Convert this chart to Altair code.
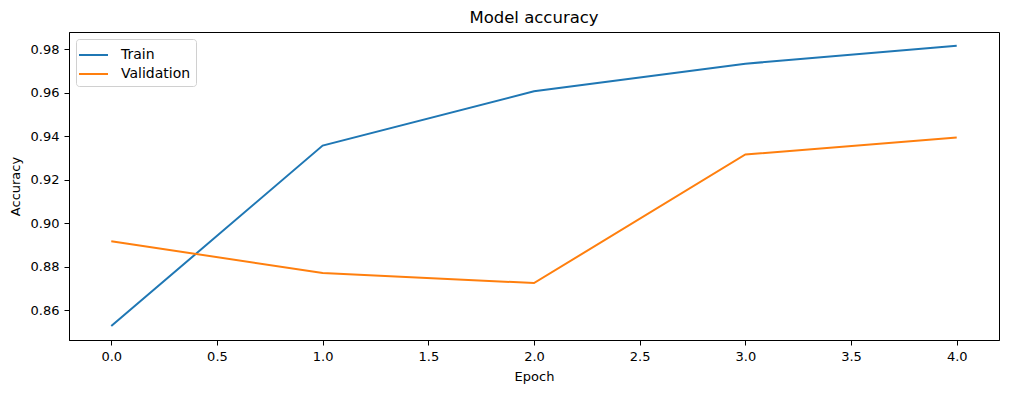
import altair as alt
import pandas as pd

epochs = [0, 1, 2, 3, 4]
train_acc = [0.8526, 0.9357, 0.9607, 0.9734, 0.9817]
val_acc = [0.8917, 0.8770, 0.8724, 0.9316, 0.9394]
series = ["Train", "Validation"]
colors = ["#1f77b4", "#ff7f0e"]

rows = []
for e, t, v in zip(epochs, train_acc, val_acc):
    rows.append({"Epoch": e, "Accuracy": t, "Series": "Train"})
    rows.append({"Epoch": e, "Accuracy": v, "Series": "Validation"})
df = pd.DataFrame(rows)

font = "DejaVu Sans"

chart = alt.Chart(df).mark_line(strokeWidth=2).encode(
    x=alt.X("Epoch:Q",
            scale=alt.Scale(domain=[-0.2, 4.2], nice=False, zero=False),
            axis=alt.Axis(values=[0, 0.5, 1, 1.5, 2, 2.5, 3, 3.5, 4], format=".1f",
                          title="Epoch", labelPadding=5, titlePadding=7)),
    y=alt.Y("Accuracy:Q",
            scale=alt.Scale(domain=[0.8462, 0.988], nice=False, zero=False),
            axis=alt.Axis(values=[0.86, 0.88, 0.90, 0.92, 0.94, 0.96, 0.98], format=".2f",
                          title="Accuracy", labelPadding=5, titlePadding=8)),
    color=alt.Color("Series:N",
                    scale=alt.Scale(domain=series, range=colors),
                    legend=alt.Legend(title=None, orient="none", legendX=7, legendY=7,
                                      symbolType="M-1.3,0H1.6", symbolSize=400,
                                      symbolStrokeWidth=2, labelFontSize=14,
                                      labelFont=font, labelColor="black",
                                      fillColor="white",
                                      strokeColor="#d0d0d0", cornerRadius=3,
                                      padding=5, rowPadding=1, labelOffset=18)),
).properties(
    width=930, height=308,
    title=alt.TitleParams("Model accuracy", font=font, fontSize=16.5, fontWeight="normal",
                          color="black", offset=6),
    padding={"left": 1, "top": 1, "right": 2, "bottom": 2},
).configure_view(
    stroke="black", strokeWidth=1
).configure_axis(
    grid=False, domain=True, domainColor="black", tickColor="black",
    tickSize=5, labelColor="black", labelFont=font, labelFontSize=13,
    titleFont=font, titleFontSize=13, titleFontWeight="normal", titleColor="black",
)

chart.save("out.html", embed_options={"renderer": "svg", "actions": False})
